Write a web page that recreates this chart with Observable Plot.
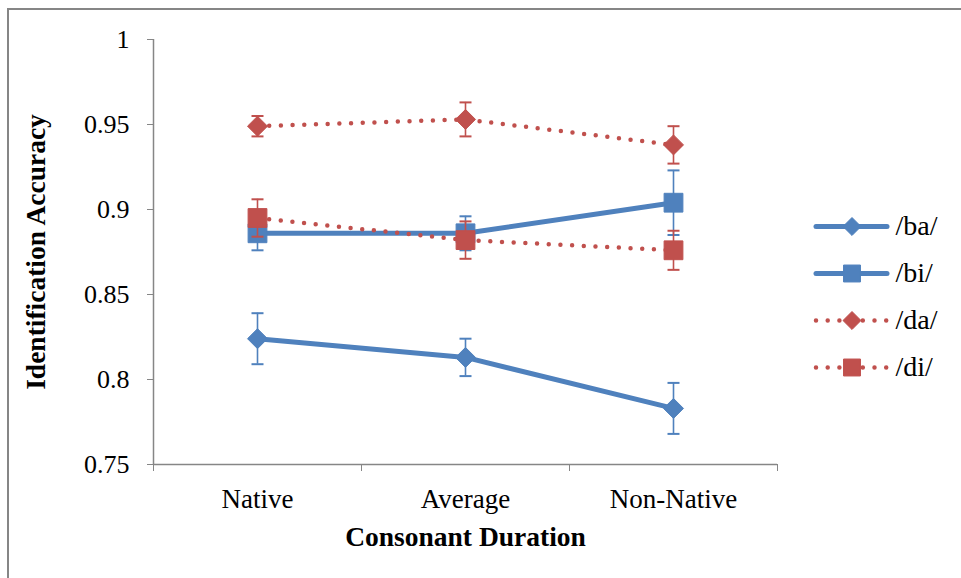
<!DOCTYPE html>
<html><head><meta charset="utf-8">
<script src="https://cdn.jsdelivr.net/npm/d3@7"></script>
<script src="https://cdn.jsdelivr.net/npm/@observablehq/plot@0.6"></script>
<style>
body{margin:0;background:#fff;}
#wrap{position:relative;width:961px;height:578px;overflow:hidden;background:#fff;}
#frame{position:absolute;left:7px;top:8px;width:1000px;height:1000px;border-left:2px solid #868686;border-top:2px solid #868686;}
#chart,#legend{position:absolute;}
#chart{left:0;top:0;}
#legend{left:790px;top:196px;}
</style></head><body>
<div id="wrap"><div id="frame"></div><div id="chart"></div><div id="legend"></div></div>
<script>
const categories = ["Native", "Average", "Non-Native"];
const seriesNames = ["/ba/", "/bi/", "/da/", "/di/"];
const baValues = [0.824, 0.813, 0.783];
const baErrors = [0.015, 0.011, 0.015];
const biValues = [0.886, 0.886, 0.904];
const biErrors = [0.010, 0.010, 0.019];
const daValues = [0.949, 0.953, 0.938];
const daErrors = [0.006, 0.010, 0.011];
const diValues = [0.895, 0.882, 0.876];
const diErrors = [0.011, 0.011, 0.0115];
const yTicks = [0.75, 0.8, 0.85, 0.9, 0.95, 1];
const xTitle = "Consonant Duration";
const yTitle = "Identification Accuracy";

const values = [baValues, biValues, daValues, diValues];
const errors = [baErrors, biErrors, daErrors, diErrors];
const colors = {"/ba/": "#4F81BD", "/bi/": "#4F81BD", "/da/": "#C0504D", "/di/": "#C0504D"};
const symbols = {"/ba/": "diamond2", "/bi/": "square", "/da/": "diamond2", "/di/": "square"};
const radii = {"diamond2": 9, "square": 10.6};
const dotted = {"/ba/": false, "/bi/": false, "/da/": true, "/di/": true};

const rows = [];
seriesNames.forEach((s, si) => categories.forEach((c, i) =>
  rows.push({series: s, i, category: c, value: values[si][i], err: errors[si][i]})));

const capSymbol = {draw(ctx) { ctx.moveTo(-6, 0); ctx.lineTo(6, 0); }};
const FONT = "'Liberation Serif', 'DejaVu Serif', serif";
const AXIS = "#868686";

const marks = [
  Plot.axisY(yTicks, {tickSize: 6, tickPadding: 18, tickFormat: d => String(d), fontSize: 26, stroke: AXIS, fill: "#000", label: null}),
  Plot.axisX([-0.5, 0.5, 1.5, 2.5], {tickSize: 7, tickFormat: () => "", stroke: AXIS, label: null}),
  Plot.axisX([0, 1, 2], {tickSize: 0, tickPadding: 24, tickFormat: i => categories[i], fontSize: 27, fill: "#000", label: null}),
  Plot.ruleX([-0.5], {stroke: AXIS, strokeWidth: 1.5}),
  Plot.ruleY([0.75], {stroke: AXIS, strokeWidth: 1.5}),
  Plot.text([xTitle], {frameAnchor: "bottom", dy: 73, lineAnchor: "middle", fontSize: 27.5, fontWeight: "bold", fill: "#000"}),
  Plot.text([yTitle], {frameAnchor: "left", dx: -117, rotate: -90, textAnchor: "middle", lineAnchor: "middle", fontSize: 27.5, fontWeight: "bold", fill: "#000"})
];

seriesNames.forEach(s => {
  const d = rows.filter(r => r.series === s);
  const c = colors[s];
  marks.push(Plot.ruleX(d, {x: "i", y1: r => r.value - r.err, y2: r => r.value + r.err, stroke: c, strokeWidth: 1.6}));
  marks.push(Plot.dot(d, {x: "i", y: r => r.value + r.err, symbol: capSymbol, stroke: c, strokeWidth: 2}));
  marks.push(Plot.dot(d, {x: "i", y: r => r.value - r.err, symbol: capSymbol, stroke: c, strokeWidth: 2}));
  marks.push(Plot.line(d, {x: "i", y: "value", stroke: c,
    strokeWidth: dotted[s] ? 4.5 : 5, strokeDasharray: dotted[s] ? "0,11.7" : null, strokeLinecap: "round", strokeLinejoin: "round"}));
  marks.push(Plot.dot(d, {x: "i", y: "value", symbol: symbols[s], r: radii[symbols[s]], fill: c, stroke: c, strokeWidth: 1}));
});

const chart = Plot.plot({
  width: 961, height: 578,
  marginLeft: 153, marginRight: 184, marginTop: 39, marginBottom: 114,
  style: {fontFamily: FONT, background: "transparent", overflow: "visible"},
  x: {type: "linear", domain: [-0.5, 2.5]},
  y: {type: "linear", domain: [0.75, 1]},
  marks
});
document.getElementById("chart").appendChild(chart);

const legendMarks = [];
seriesNames.forEach(s => {
  const c = colors[s];
  legendMarks.push(Plot.ruleY([s], {y: d => d, x1: 0, x2: 1, stroke: c,
    strokeWidth: dotted[s] ? 4.5 : 5, strokeDasharray: dotted[s] ? "0,11.7" : null, strokeLinecap: "round"}));
  legendMarks.push(Plot.dot([s], {x: 0.5, y: d => d, symbol: symbols[s], r: radii[symbols[s]] * 0.9, fill: c, stroke: c, strokeWidth: 1}));
});
legendMarks.push(Plot.text(seriesNames, {x: 1, y: d => d, text: d => d, dx: 8, textAnchor: "start", fontSize: 28, fill: "#000"}));

const legend = Plot.plot({
  width: 171, height: 200,
  marginLeft: 26, marginRight: 74, marginTop: 30, marginBottom: 29,
  style: {fontFamily: FONT, background: "transparent", overflow: "visible"},
  x: {domain: [0, 1], axis: null},
  y: {type: "point", domain: seriesNames, padding: 0, axis: null},
  marks: legendMarks
});
document.getElementById("legend").appendChild(legend);
</script>
</body></html>
